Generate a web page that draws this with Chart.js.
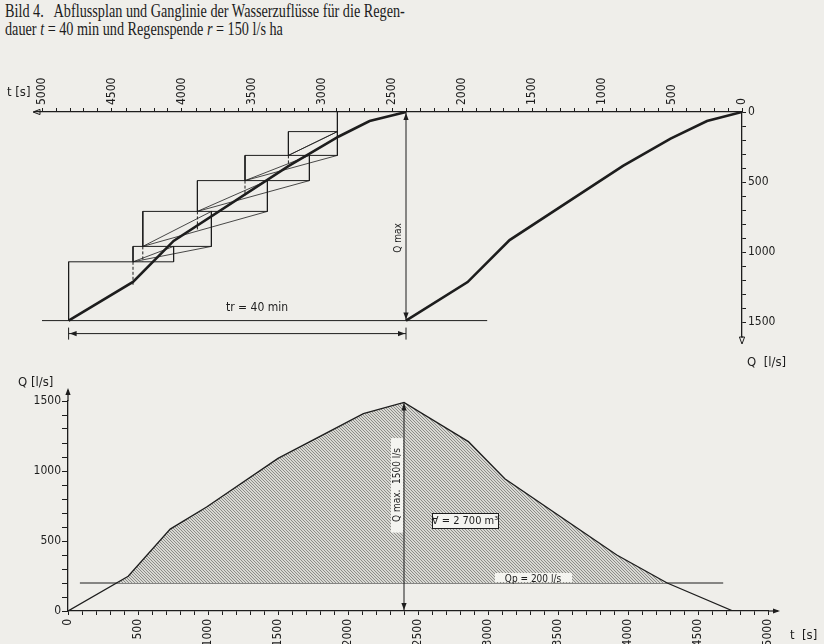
<!DOCTYPE html>
<html>
<head>
<meta charset="utf-8">
<script src="https://cdn.jsdelivr.net/npm/chart.js@4.4.1/dist/chart.umd.min.js"></script>
<style>
body { margin: 0; background: #efeeea; width: 824px; height: 644px; overflow: hidden; position: relative; color: #1c1c1c; }
.cap { position: absolute; left: 5px; white-space: nowrap; font-family: "Liberation Serif", serif; font-size: 18px; transform-origin: 0 0; transform: scaleX(0.79); }
#top { position: absolute; left: 0; top: 0; }
#bottom { position: absolute; left: 0; top: 370px; }
</style>
</head>
<body>
<div class="cap" style="top:1px">Bild 4.&nbsp;&nbsp; Abflussplan und Ganglinie der Wasserzuflüsse für die Regen-</div>
<div class="cap" style="top:19px">dauer <i>t</i> = 40 min und Regenspende <i>r</i> = 150 l/s ha</div>
<canvas id="top" width="824" height="380"></canvas>
<canvas id="bottom" width="824" height="274"></canvas>
<script>
// tick labels
var timeLabels = [0, 500, 1000, 1500, 2000, 2500, 3000, 3500, 4000, 4500, 5000];
var flowLabels = [0, 500, 1000, 1500];
var minorStep = 100;

// top: sum curve of inflow (t in s, Q in l/s)
var sumT = [0, 250, 510, 850, 1660, 1960, 2400];
var sumQ = [0, 65, 190, 385, 915, 1215, 1490];
// same curve drawn again after the rain duration
var shiftT = [2400, 2660, 2880, 3240, 4060, 4350, 4810];
var shiftQ = [0, 65, 175, 386, 921, 1214, 1490];

// construction steps in the left part
var stepQ = [140, 310, 490, 710, 960, 1070];
var stepLeftT = [3240, 3550, 3890, 4280, 4350, 4810];
var stepRightT = [2890, 2890, 3090, 3390, 3790, 4060];
var dashEndQ = [385, 600, 840, 1070, 1235];

var tRain = 2400;
var qMax = 1490;
var baseT = [5000, 1820];

// bottom: hydrograph
var hydT = [0, 430, 730, 990, 1500, 2110, 2400, 2860, 3120, 3920, 4280, 4750];
var hydQ = [0, 248, 585, 743, 1090, 1410, 1490, 1210, 945, 400, 200, 0];
var qpT = [85, 4680];
var qpQ = [200, 200];

var ink = '#1d1d1d';
var tickFont = { family: "'DejaVu Sans Condensed', 'DejaVu Sans', sans-serif", size: 12 };
var labelFamily = "'DejaVu Sans Condensed', 'DejaVu Sans', sans-serif";

function pts(ts, qs) {
    return ts.map(function (t, i) { return { x: t, y: qs[i] }; });
}

function seg(t1, q1, t2, q2, width, dash) {
    return {
        data: [{ x: t1, y: q1 }, { x: t2, y: q2 }],
        borderColor: ink, borderWidth: width || 1, borderDash: dash || [],
        pointRadius: 0, showLine: true, fill: false
    };
}

function line(ctx, x1, y1, x2, y2) {
    ctx.beginPath(); ctx.moveTo(x1, y1); ctx.lineTo(x2, y2); ctx.stroke();
}

function arrow(ctx, x, y, dx, dy, open) {
    // tip at x,y pointing in direction dx,dy
    var l = 7, w = 2.6;
    ctx.beginPath();
    ctx.moveTo(x, y);
    ctx.lineTo(x - dx * l - dy * w, y - dy * l + dx * w);
    ctx.lineTo(x - dx * l + dy * w, y - dy * l - dx * w);
    ctx.closePath();
    if (open) { ctx.stroke(); } else { ctx.fill(); }
}

function vtext(ctx, txt, x, y) {
    ctx.save();
    ctx.translate(x, y);
    ctx.rotate(-Math.PI / 2);
    ctx.textAlign = 'center';
    ctx.textBaseline = 'middle';
    ctx.fillText(txt, 0, 0);
    ctx.restore();
}

function axisGrid(len) {
    return { display: true, drawOnChartArea: false, drawTicks: true, tickLength: len || 4, color: ink, lineWidth: 1 };
}

// tick marks every 100 up to the last labelled value
function fixedTicks(last) {
    return function (s) {
        var t = [];
        for (var v = 0; v <= last; v += minorStep) { t.push({ value: v }); }
        s.ticks = t;
    };
}

// ---------- top diagram ----------
var topSets = [];
topSets.push({ data: pts(sumT, sumQ), borderColor: ink, borderWidth: 2.6, pointRadius: 0, showLine: true, fill: false });
topSets.push({ data: pts(shiftT, shiftQ), borderColor: ink, borderWidth: 2.6, pointRadius: 0, showLine: true, fill: false });
for (var k = 0; k < stepQ.length; k++) {
    topSets.push(seg(stepLeftT[k], stepQ[k], stepRightT[k], stepQ[k]));
    topSets.push(seg(stepRightT[k], k === 0 ? 0 : stepQ[k - 1], stepRightT[k], stepQ[k]));
    if (k < stepQ.length - 1) {
        topSets.push(seg(stepLeftT[k], stepQ[k], stepLeftT[k], stepQ[k + 1]));
        topSets.push(seg(stepLeftT[k], stepQ[k + 1], stepLeftT[k], dashEndQ[k], 1, [3, 2]));
        topSets.push(seg(stepLeftT[k], stepQ[k + 1], stepRightT[k], stepQ[k], 0.8));
        topSets.push(seg(stepLeftT[k], stepQ[k + 1], stepRightT[k + 1], stepQ[k], 0.8));
    } else {
        topSets.push(seg(stepLeftT[k], stepQ[k], stepLeftT[k], qMax));
    }
}

var topExtras = {
    id: 'topExtras',
    afterDatasetsDraw: function (chart) {
        var ctx = chart.ctx, xs = chart.scales.x, ys = chart.scales.y;
        var X = function (t) { return xs.getPixelForValue(t); };
        var Y = function (q) { return ys.getPixelForValue(q); };
        var tEnd = shiftT[shiftT.length - 1];
        ctx.save();
        ctx.strokeStyle = ink; ctx.fillStyle = ink; ctx.lineWidth = 1;
        line(ctx, X(baseT[0]), Y(qMax), X(baseT[1]), Y(qMax));
        // Q max
        line(ctx, X(tRain), Y(0), X(tRain), Y(qMax));
        arrow(ctx, X(tRain), Y(0) + 1, 0, -1);
        arrow(ctx, X(tRain), Y(qMax) - 1, 0, 1);
        // tr dimension
        var yd = Y(qMax) + 13;
        line(ctx, X(tEnd), yd, X(tRain), yd);
        line(ctx, X(tEnd), yd - 6, X(tEnd), yd + 6);
        line(ctx, X(tRain), yd - 6, X(tRain), yd + 6);
        arrow(ctx, X(tEnd) + 1, yd, -1, 0);
        arrow(ctx, X(tRain) - 1, yd, 1, 0);
        // axis arrows
        arrow(ctx, xs.left - 2, xs.bottom, -1, 0, true);
        line(ctx, ys.left, ys.bottom, ys.left, ys.bottom + 2);
        arrow(ctx, ys.left, ys.bottom + 8, 0, 1, true);
        // texts
        ctx.font = '13px ' + labelFamily;
        ctx.textBaseline = 'middle';
        ctx.textAlign = 'left';
        ctx.fillText('t [s]', 7, 93);
        ctx.fillText('Q  [l/s]', 747, 363);
        ctx.font = '10px ' + labelFamily;
        vtext(ctx, 'Q max', X(tRain) - 8, 238);
        ctx.font = '12px ' + labelFamily;
        ctx.textAlign = 'center';
        ctx.fillText('tr = 40 min', 257, 308);
        ctx.restore();
    }
};

new Chart(document.getElementById('top'), {
    type: 'scatter',
    data: { datasets: topSets },
    options: {
        responsive: false, animation: false, events: [],
        layout: { padding: { left: 35, right: 0, top: 0, bottom: 44 } },
        plugins: { legend: { display: false }, tooltip: { enabled: false } },
        scales: {
            x: {
                type: 'linear', position: 'top', reverse: true, min: 0, max: 5050,
                border: { display: true, color: ink, width: 1.3 },
                grid: axisGrid(4),
                ticks: {
                    autoSkip: false, minRotation: 90, maxRotation: 90, padding: 3, labelOffset: 14, color: ink, font: tickFont,
                    callback: function (v) { return timeLabels.indexOf(v) >= 0 ? String(v) : ''; }
                },
                afterBuildTicks: fixedTicks(5000),
                afterFit: function (s) { s.height = 112; }
            },
            y: {
                type: 'linear', position: 'right', reverse: true, min: 0, max: 1600,
                border: { display: true, color: ink, width: 1.3 },
                grid: axisGrid(4),
                ticks: {
                    autoSkip: false, padding: 2, color: ink, font: tickFont,
                    callback: function (v) { return flowLabels.indexOf(v) >= 0 ? String(v) : ''; }
                },
                afterBuildTicks: fixedTicks(1500),
                afterFit: function (s) { s.width = 82; }
            }
        }
    },
    plugins: [topExtras]
});

// ---------- bottom diagram ----------
function hatch() {
    var c = document.createElement('canvas');
    c.width = 3; c.height = 3;
    var g = c.getContext('2d');
    g.fillStyle = '#d8d8d3';
    g.fillRect(0, 0, 3, 3);
    g.fillStyle = '#8c8c88';
    for (var i = 0; i < 3; i++) { g.fillRect(i, i, 1, 1); }
    return g.createPattern(c, 'repeat');
}

var bottomExtras = {
    id: 'bottomExtras',
    afterDatasetsDraw: function (chart) {
        var ctx = chart.ctx, xs = chart.scales.x, ys = chart.scales.y;
        var X = function (t) { return xs.getPixelForValue(t); };
        var Y = function (q) { return ys.getPixelForValue(q); };
        ctx.save();
        ctx.strokeStyle = ink; ctx.fillStyle = ink; ctx.lineWidth = 1.2;
        // axis extensions
        line(ctx, xs.right, xs.top, xs.right + 10, xs.top);
        arrow(ctx, xs.right + 12, xs.top, 1, 0);
        line(ctx, ys.right, ys.top, ys.right, ys.top - 11);
        arrow(ctx, ys.right, ys.top - 13, 0, -1);
        ctx.lineWidth = 1;
        // Q max
        var xm = X(tRain);
        ctx.fillStyle = '#f4f4f0';
        ctx.fillRect(xm - 13, Y(1235), 12, Y(560) - Y(1235));
        ctx.fillStyle = ink;
        line(ctx, xm, Y(0), xm, Y(qMax));
        arrow(ctx, xm, Y(qMax) + 1, 0, -1);
        arrow(ctx, xm, Y(0) - 1, 0, 1);
        ctx.font = '10px ' + labelFamily;
        vtext(ctx, 'Q max.  1500 l/s', xm - 7, Y(900));
        // volume box
        var bx = 432, by = 143;
        ctx.fillStyle = '#f4f4f0';
        ctx.fillRect(bx, by, 66, 15);
        ctx.strokeRect(bx + 0.5, by + 0.5, 66, 15);
        ctx.fillStyle = ink;
        ctx.font = '11px ' + labelFamily;
        ctx.textAlign = 'center'; ctx.textBaseline = 'middle';
        ctx.fillText('\u2200 = 2 700 m\u00b3', bx + 33, by + 8);
        // Qp label
        var yq = Y(200);
        ctx.fillStyle = '#f4f4f0';
        ctx.fillRect(495, yq - 10, 77, 9);
        ctx.fillStyle = ink;
        ctx.font = '10px ' + labelFamily;
        ctx.textBaseline = 'alphabetic';
        ctx.fillText('Qp = 200 l/s', 533, yq - 1);
        // axis titles
        ctx.font = '13px ' + labelFamily;
        ctx.textAlign = 'left'; ctx.textBaseline = 'middle';
        ctx.fillText('Q [l/s]', 18, 13);
        ctx.fillText('t  [s]', 790, 266);
        ctx.restore();
    }
};

new Chart(document.getElementById('bottom'), {
    type: 'scatter',
    data: {
        datasets: [
            {
                data: pts(hydT, hydQ), borderColor: ink, borderWidth: 1.3, pointRadius: 0, showLine: true,
                fill: { target: { value: 200 }, above: hatch(), below: 'rgba(0,0,0,0)' }
            },
            { data: pts(qpT, qpQ), borderColor: ink, borderWidth: 1, pointRadius: 0, showLine: true, fill: false }
        ]
    },
    options: {
        responsive: false, animation: false, events: [],
        layout: { padding: { left: 0, right: 56, top: 31, bottom: 0 } },
        plugins: { legend: { display: false }, tooltip: { enabled: false } },
        scales: {
            x: {
                type: 'linear', position: 'bottom', min: 0, max: 5000,
                border: { display: true, color: ink, width: 1.3 },
                grid: axisGrid(4),
                ticks: {
                    autoSkip: false, minRotation: 90, maxRotation: 90, padding: 4, color: ink, font: tickFont,
                    callback: function (v) { return timeLabels.indexOf(v) >= 0 ? String(v) : ''; }
                },
                afterBuildTicks: fixedTicks(5000),
                afterFit: function (s) { s.height = 33; }
            },
            y: {
                type: 'linear', position: 'left', min: 0, max: 1500,
                border: { display: true, color: ink, width: 1.3 },
                grid: axisGrid(6),
                ticks: {
                    autoSkip: false, padding: 1, color: ink, font: tickFont,
                    callback: function (v) { return flowLabels.indexOf(v) >= 0 ? String(v) : ''; }
                },
                afterBuildTicks: fixedTicks(1500),
                afterFit: function (s) { s.width = 68; }
            }
        }
    },
    plugins: [bottomExtras]
});
</script>
</body>
</html>
